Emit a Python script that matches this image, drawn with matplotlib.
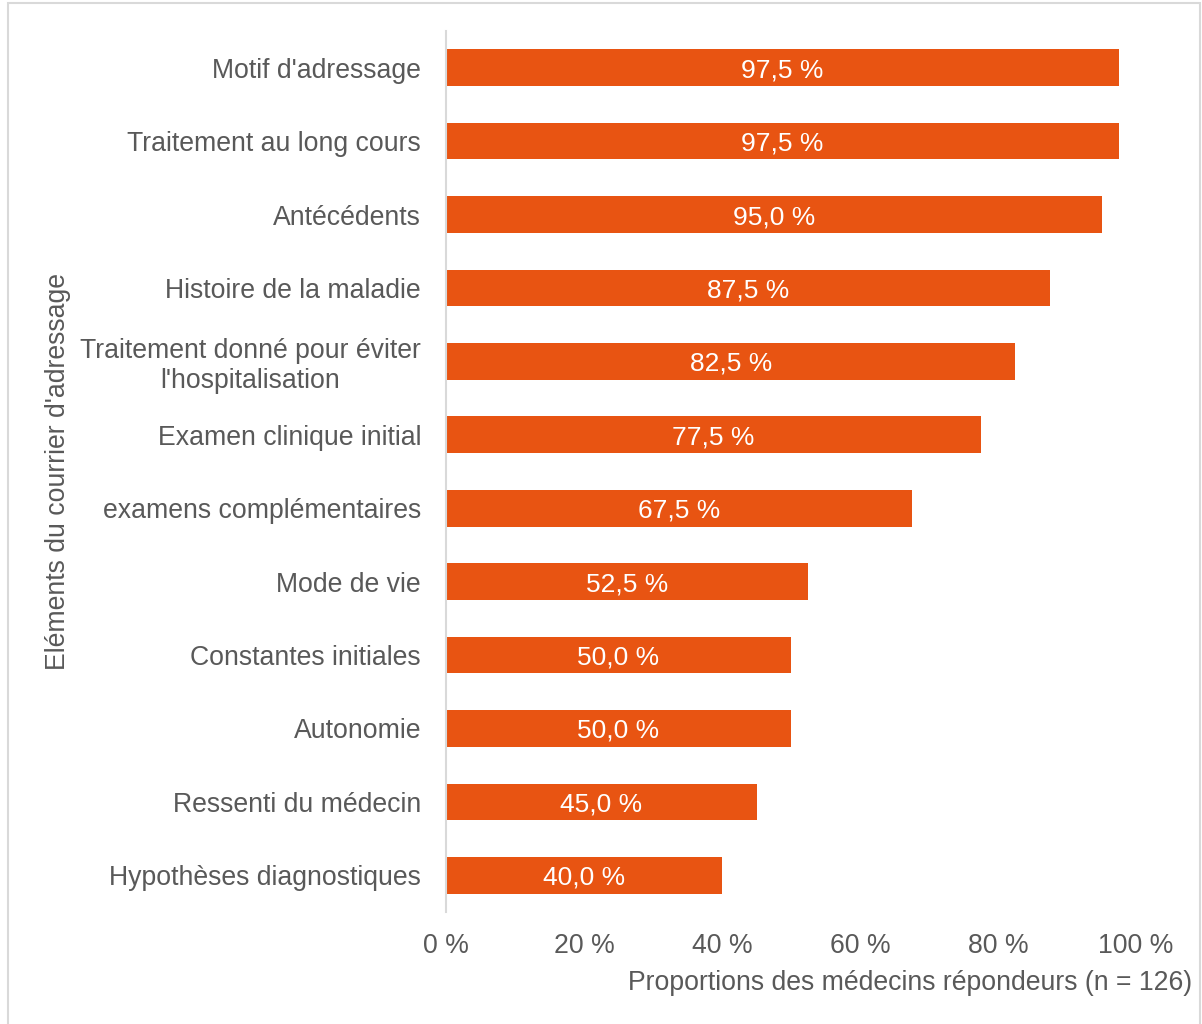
import matplotlib.pyplot as plt
from matplotlib.patches import Rectangle
from matplotlib.ticker import FuncFormatter

# Éléments attendus dans le courrier d'adressage (du plus cité au moins cité)
elements = [
    "Motif d'adressage",
    "Traitement au long cours",
    "Antécédents",
    "Histoire de la maladie",
    "Traitement donné pour éviter\nl'hospitalisation",
    "Examen clinique initial",
    "examens complémentaires",
    "Mode de vie",
    "Constantes initiales",
    "Autonomie",
    "Ressenti du médecin",
    "Hypothèses diagnostiques",
]
proportions = [97.5, 97.5, 95.0, 87.5, 82.5, 77.5, 67.5, 52.5, 50.0, 50.0, 45.0, 40.0]
x_ticks = [0, 20, 40, 60, 80, 100]

plt.rcParams['font.family'] = ['Liberation Sans', 'DejaVu Sans']
text_color = '#595959'
bar_color = '#E85412'
fs = 19.2

fig = plt.figure(figsize=(12.02, 10.24), dpi=100)
ax = fig.add_axes([446 / 1202, 1 - 912 / 1024, 690 / 1202, 881 / 1024])

positions = list(range(len(elements)))
ax.barh(positions, proportions, height=0.5, color=bar_color)

# Valeurs écrites au centre de chaque barre
for pos, val in zip(positions, proportions):
    ax.text(val / 2, pos, f"{val:.1f} %".replace('.', ','), ha='center',
            va='center_baseline', color='white', fontsize=19)

ax.set_xlim(0, 100)
ax.set_ylim(len(elements) - 0.5, -0.5)
ax.set_xticks(x_ticks)
ax.xaxis.set_major_formatter(FuncFormatter(lambda v, p: f"{v:.0f} %"))
ax.set_yticks(positions)
ax.set_yticklabels(elements)
for lab in ax.get_yticklabels():
    lab.set_multialignment('center')

ax.tick_params(axis='both', length=0, labelsize=fs, colors=text_color)
ax.tick_params(axis='y', pad=18)
ax.tick_params(axis='x', pad=15)

for side in ['top', 'right', 'bottom']:
    ax.spines[side].set_visible(False)
ax.spines['left'].set_color('#D9D9D9')
ax.spines['left'].set_linewidth(1.5)

fig.text(1192 / 1202, 1 - 983 / 1024, "Proportions des médecins répondeurs (n = 126)",
         ha='right', va='center', color=text_color, fontsize=fs)
fig.text(58 / 1202, 1 - 471 / 1024, "Eléments du courrier d'adressage",
         ha='center', va='center', rotation=90, color=text_color, fontsize=fs)

# Cadre gris clair autour du graphique
fig.patches.append(Rectangle((8 / 1202, -0.01), 1192 / 1202, 1 - 3 / 1024 + 0.01,
                             transform=fig.transFigure, fill=False,
                             edgecolor='#D9D9D9', linewidth=1.5))

fig.savefig('out.png', dpi=100, facecolor='white')
